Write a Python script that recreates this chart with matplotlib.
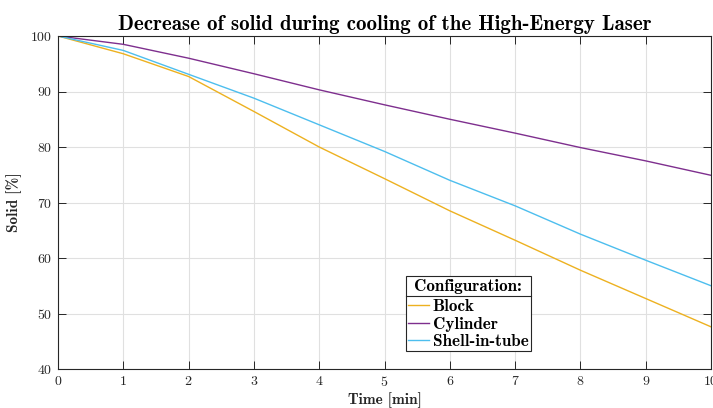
import numpy as np
import matplotlib
matplotlib.use("Agg")
import matplotlib.pyplot as plt
from matplotlib.lines import Line2D

time_min = [0, 1, 2, 3, 4, 5, 6, 7, 8, 9, 10]
block = [100, 96.8, 92.7, 86.4, 80.0, 74.3, 68.5, 63.2, 57.8, 52.7, 47.6]
cylinder = [100, 98.5, 96.0, 93.2, 90.3, 87.6, 85.0, 82.5, 79.9, 77.5, 74.9]
shell_in_tube = [100, 97.4, 93.1, 88.8, 84.0, 79.2, 74.0, 69.4, 64.3, 59.6, 55.0]

series_names = ["Block", "Cylinder", "Shell-in-tube"]
x_ticks = [0, 1, 2, 3, 4, 5, 6, 7, 8, 9, 10]
y_ticks = [40, 50, 60, 70, 80, 90, 100]

plt.rcParams["font.family"] = "cmr10"
plt.rcParams["axes.formatter.use_mathtext"] = True
plt.rcParams["axes.unicode_minus"] = False

axis_col = "#262626"

fig = plt.figure(figsize=(7.13, 4.08), dpi=100)
ax = fig.add_axes([58 / 713, 1 - 369 / 408, (711 - 58) / 713, (369 - 36) / 408])

colors = ["#EDB120", "#7E2F8E", "#4DBEEE"]
for vals, name, c in zip([block, cylinder, shell_in_tube], series_names, colors):
    ax.plot(time_min, vals, color=c, lw=1.0, label=name)

ax.set_xlim(0, 10)
ax.set_ylim(40, 100)
ax.set_xticks(x_ticks)
ax.set_yticks(y_ticks)
ax.grid(True, color="#e0e0e0", lw=0.8)
ax.set_axisbelow(True)
ax.tick_params(direction="in", length=6, width=0.7, top=True, right=True,
               labelsize=10, colors=axis_col, pad=4)
for s in ax.spines.values():
    s.set_color(axis_col)
    s.set_linewidth(0.8)

ax.set_title("Decrease of solid during cooling of the High-Energy Laser",
             fontsize=15, fontname="cmb10", color="#000000", pad=4)
ax.set_xlabel("Time [min]", fontsize=11, fontname="cmb10", color=axis_col, labelpad=3)
ax.set_ylabel("Solid [%]", fontsize=11, fontname="cmb10", color=axis_col, labelpad=6)

leg = ax.legend(loc="upper left", bbox_to_anchor=((405.5 - 58) / 653, (369 - 276) / 333),
                title="Configuration:", prop={"family": "cmb10", "size": 12.3},
                frameon=True, fancybox=False, edgecolor=axis_col, framealpha=1,
                handlelength=1.25, handletextpad=0.2, borderpad=0.15,
                labelspacing=0.14, borderaxespad=0)
leg.get_title().set_fontname("cmb10")
leg.get_title().set_fontsize(12.3)
leg.get_frame().set_linewidth(0.8)
leg._legend_box.align = "center"
leg._legend_box.sep = 4

# separator line under legend title
fig.canvas.draw()
tb = leg.get_title().get_window_extent()
fb = leg.get_frame().get_window_extent()
inv = fig.transFigure.inverted()
y_sep = tb.y0 - 2
(x0, ys), (x1, _) = inv.transform([(fb.x0, y_sep), (fb.x1, y_sep)])
fig.add_artist(Line2D([x0, x1], [ys, ys], color=axis_col, lw=0.8))

fig.savefig("out.png", dpi=100)
